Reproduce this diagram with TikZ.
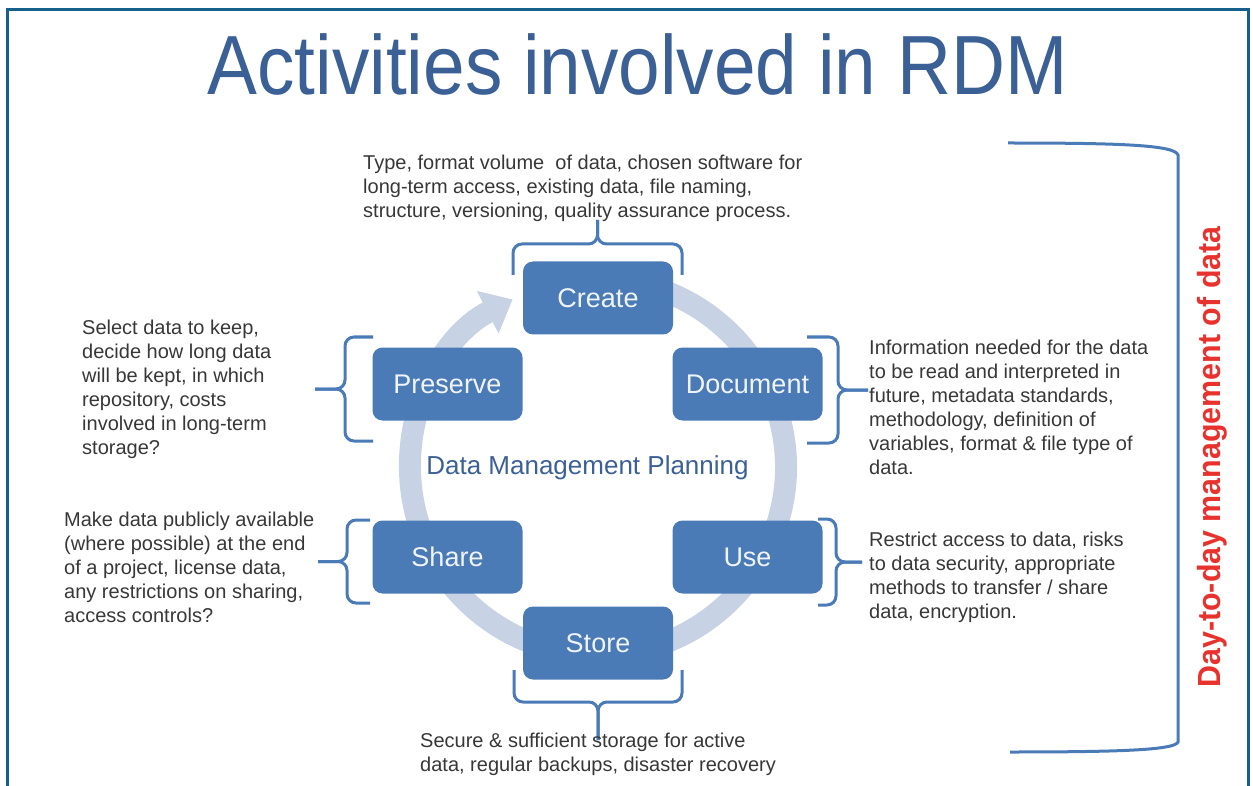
\documentclass[tikz,border=0pt]{standalone}
\usepackage{fontspec}
\setmainfont{Liberation Sans}
\usepackage{xcolor}
\usepackage{tikz}
\usetikzlibrary{arrows.meta,positioning}

\begin{document}
\begin{tikzpicture}[
    x=1pt,y=1pt,
    stage/.style={fill=stagefill,rounded corners=10pt,minimum width=150pt,
      minimum height=73pt,text=stagetext,font=\fontsize{27}{30}\selectfont},
    note/.style={anchor=north west,align=left,inner sep=0pt,text=notetext,
      font=\fontsize{20}{24}\selectfont},
    curl/.style={draw=bracecol,line width=3pt,rounded corners=9pt},
    ring/.style={draw=ringcol,line width=22pt}
  ]
  \definecolor{rdmframe}{RGB}{22,96,140}
  \definecolor{heading}{RGB}{59,96,150}
  \definecolor{stagefill}{RGB}{74,123,183}
  \definecolor{stagetext}{RGB}{240,244,250}
  \definecolor{notetext}{RGB}{55,55,55}
  \definecolor{bracecol}{RGB}{74,123,183}
  \definecolor{ringcol}{RGB}{199,210,228}
  \definecolor{daily}{RGB}{232,50,45}
  \def\curly#1#2#3{%
    \draw[curl] (-#1,0) -- (-#1,#2) -- (0,#2) -- (0,#3);
    \draw[curl] (#1,0) -- (#1,#2) -- (0,#2) -- (0,#3);}
  \useasboundingbox (0,0) rectangle (1253,-786);
  \draw[rdmframe,line width=3pt] (7,-786) -- (7,-10) -- (1248,-10) -- (1248,-786);
  \node[anchor=base,text=heading,font=\fontsize{84}{90}\selectfont] (title)
    at (637.5,-95) {\scalebox{0.89}[1]{Activities involved in RDM}};
  % cycle
  \coordinate (hub) at (598,-467);
  \draw[ring,-{Triangle[width=46pt,length=28pt]}] ([shift={(100:188pt)}]hub)
    arc[start angle=100,end angle=-243,radius=188pt];
  \node[anchor=base,text=heading,font=\fontsize{26}{30}\selectfont] (plan)
    at (587.5,-474) {Data Management Planning};
  \node[stage] (create) at (598,-298) {Create};
  \node[stage] (preserve) at (447.5,-384) {Preserve};
  \node[stage] (document) at (747.5,-384) {Document};
  \node[stage] (share) at (447.5,-557) {Share};
  \node[stage] (use) at (747.5,-557) {Use};
  \node[stage] (store) at (598,-643) {Store};
  % braces
  \foreach \bx/\by/\turn/\half/\body/\tip in {597.5/-275/0/84.5/31/55,
      598/-670/180/84/32/70, 373/-389/90/52/28/58, 370/-561.5/90/41.5/23/52,
      807/-390/-90/53/31/61, 818/-562/-90/43/18/44}
  {
    \begin{scope}[shift={(\bx,\by)},rotate=\turn]
      \curly{\half}{\body}{\tip}
    \end{scope}
  }
  % notes
  \node[note] (createnote) at (363,-155) {Type, format volume\ \ of data, chosen software for\\
    long-term access, existing data, file naming,\\
    structure, versioning, quality assurance process.};
  \node[note] (preservenote) at (82,-320) {Select data to keep,\\decide how long data\\
    will be kept, in which\\repository, costs\\involved in long-term\\storage?};
  \node[note] (sharenote) at (64,-512) {Make data publicly available\\
    (where possible) at the end\\of a project, license data,\\
    any restrictions on sharing,\\access controls?};
  \node[note] (documentnote) at (869,-340) {Information needed for the data\\
    to be read and interpreted in\\future, metadata standards,\\
    methodology, definition of\\variables, format \& file type of\\data.};
  \node[note] (usenote) at (869,-532) {Restrict access to data, risks\\
    to data security, appropriate\\methods to transfer / share\\data, encryption.};
  \node[note] (storenote) at (420,-733) {Secure \& sufficient storage for active\\
    data, regular backups, disaster recovery};
  % day-to-day
  \draw[bracecol,line width=3pt] (1008,-143) .. controls (1120,-143) and (1175,-145) .. (1178,-155)
    -- (1178,-742) .. controls (1175,-750) and (1120,-752) .. (1010,-752);
  \node[rotate=90,anchor=base,text=daily,font=\bfseries\fontsize{32}{36}\selectfont] (daily)
    at (1220,-457) {\scalebox{0.95}[1]{Day-to-day management of data}};
\end{tikzpicture}
\end{document}
